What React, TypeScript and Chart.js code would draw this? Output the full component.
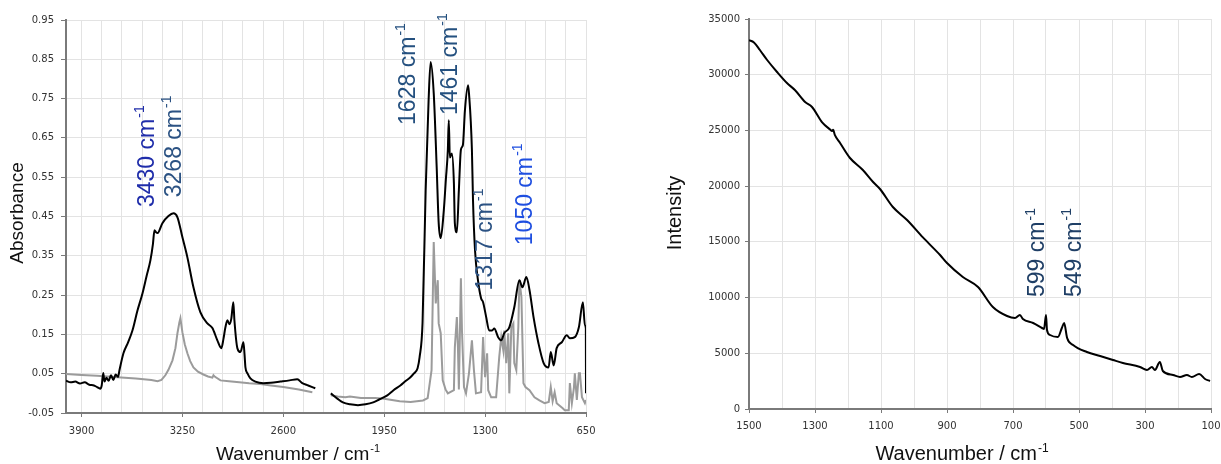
import React, { useEffect, useRef } from "react";
import { Chart, registerables } from "chart.js";

Chart.register(...registerables);

// ---------- IR (left) data ----------
// Sample spectrum (black), high-wavenumber segment
const irSampleHighWn = [4000, 3970, 3940, 3910, 3880, 3850, 3820, 3800, 3780, 3770, 3760, 3752, 3740, 3725, 3710, 3695, 3680, 3665, 3655, 3630, 3600, 3572, 3540, 3507, 3480, 3456, 3440, 3430, 3420, 3410, 3379, 3340, 3308, 3282, 3250, 3218, 3179, 3134, 3089, 3057, 3025, 2999, 2985, 2973, 2960, 2947, 2935, 2922, 2915, 2896, 2876, 2857, 2850, 2844, 2830, 2812, 2780, 2729, 2680, 2619, 2560, 2510, 2478, 2440, 2394];
const irSampleHighAbs = [0.032, 0.028, 0.030, 0.025, 0.028, 0.022, 0.020, 0.016, 0.012, 0.020, 0.052, 0.030, 0.040, 0.032, 0.046, 0.034, 0.048, 0.042, 0.060, 0.102, 0.130, 0.160, 0.210, 0.255, 0.300, 0.339, 0.380, 0.415, 0.410, 0.408, 0.433, 0.451, 0.458, 0.448, 0.397, 0.346, 0.270, 0.206, 0.178, 0.166, 0.135, 0.115, 0.140, 0.168, 0.186, 0.176, 0.190, 0.232, 0.186, 0.115, 0.105, 0.130, 0.100, 0.066, 0.050, 0.038, 0.030, 0.026, 0.027, 0.030, 0.033, 0.036, 0.026, 0.020, 0.013];
// Sample spectrum (black), low-wavenumber segment
const irSampleLowWn = [2294, 2250, 2216, 2170, 2119, 2070, 2021, 1980, 1930, 1890, 1846, 1810, 1781, 1760, 1735, 1722, 1703, 1683, 1664, 1651, 1631, 1612, 1599, 1586, 1566, 1553, 1540, 1534, 1527, 1514, 1501, 1495, 1482, 1469, 1456, 1443, 1430, 1410, 1404, 1385, 1378, 1365, 1346, 1326, 1313, 1293, 1274, 1255, 1241, 1216, 1196, 1177, 1144, 1112, 1079, 1060, 1034, 1014, 988, 956, 923, 891, 877, 858, 839, 806, 774, 754, 722, 696, 670, 657, 651, 650];
const irSampleLowAbs = [0.000, -0.014, -0.023, -0.028, -0.030, -0.028, -0.023, -0.015, -0.005, 0.008, 0.020, 0.032, 0.041, 0.050, 0.064, 0.092, 0.180, 0.517, 0.746, 0.843, 0.764, 0.576, 0.433, 0.395, 0.466, 0.543, 0.620, 0.695, 0.600, 0.610, 0.535, 0.433, 0.410, 0.517, 0.620, 0.632, 0.720, 0.784, 0.764, 0.620, 0.492, 0.364, 0.288, 0.242, 0.232, 0.194, 0.160, 0.160, 0.165, 0.143, 0.135, 0.153, 0.168, 0.219, 0.288, 0.270, 0.296, 0.263, 0.194, 0.127, 0.077, 0.066, 0.105, 0.071, 0.115, 0.130, 0.148, 0.140, 0.143, 0.168, 0.232, 0.173, 0.165, 0.000];
// Reference spectrum (grey)
const irRefHighWn = [4000, 3900, 3800, 3668, 3550, 3450, 3410, 3385, 3360, 3340, 3314, 3295, 3282, 3270, 3263, 3250, 3235, 3218, 3200, 3179, 3150, 3115, 3085, 3057, 3050, 3040, 3005, 2950, 2900, 2820, 2748, 2680, 2600, 2500, 2413];
const irRefHighAbs = [0.049, 0.047, 0.045, 0.041, 0.038, 0.034, 0.031, 0.034, 0.046, 0.060, 0.084, 0.115, 0.153, 0.180, 0.191, 0.155, 0.125, 0.102, 0.082, 0.066, 0.055, 0.048, 0.043, 0.040, 0.046, 0.042, 0.033, 0.031, 0.029, 0.026, 0.024, 0.020, 0.016, 0.010, 0.003];
const irRefLowWn = [2294, 2250, 2200, 2171, 2100, 2008, 1950, 1900, 1850, 1780, 1700, 1670, 1645, 1631, 1618, 1605, 1599, 1586, 1573, 1555, 1540, 1501, 1495, 1482, 1475, 1469, 1456, 1449, 1436, 1423, 1404, 1385, 1372, 1359, 1326, 1313, 1307, 1300, 1287, 1280, 1261, 1229, 1209, 1196, 1183, 1177, 1164, 1151, 1144, 1131, 1118, 1112, 1099, 1086, 1079, 1066, 1053, 1040, 1014, 982, 950, 917, 890, 877, 865, 852, 839, 800, 787, 761, 754, 741, 728, 722, 709, 696, 689, 676, 657, 650];
const irRefLowAbs = [-0.005, -0.008, -0.010, -0.008, -0.012, -0.012, -0.014, -0.017, -0.020, -0.022, -0.018, -0.012, 0.059, 0.385, 0.229, 0.288, 0.178, 0.153, 0.033, 0.010, 0.000, 0.008, 0.117, 0.194, 0.117, 0.010, 0.293, 0.160, 0.016, 0.000, 0.051, 0.135, 0.059, 0.000, 0.003, 0.143, 0.092, 0.041, 0.102, 0.008, -0.010, -0.010, 0.092, 0.143, 0.110, 0.160, 0.077, 0.153, 0.000, 0.168, 0.178, 0.077, 0.059, 0.168, 0.288, 0.245, 0.026, 0.016, 0.008, -0.010, -0.018, -0.025, -0.022, 0.016, -0.020, 0.003, -0.025, -0.038, -0.043, -0.043, 0.026, -0.025, 0.013, 0.051, -0.017, 0.051, 0.051, -0.010, -0.025, -0.017];
const irGapWn = 2340;

const irXGrid = [650, 780, 910, 1040, 1170, 1300, 1430, 1560, 1690, 1820, 1950, 2080, 2210, 2340, 2470, 2600, 2730, 2860, 2990, 3120, 3250, 3380, 3510, 3640, 3770, 3900];
const irXLabels = [650, 1300, 1950, 2600, 3250, 3900];
const irYTicks = [-0.05, 0.05, 0.15, 0.25, 0.35, 0.45, 0.55, 0.65, 0.75, 0.85, 0.95];

const irPeakLabels = ["3430 cm", "3268 cm", "1628 cm", "1461 cm", "1317 cm", "1050 cm"];
const irPeakLabelWn = [3488, 3314, 1807, 1534, 1306, 1051];
const irPeakLabelAbs = [0.474, 0.499, 0.683, 0.708, 0.262, 0.377];
const irPeakLabelColors = ["#1f2daa", "#2b5283", "#24507f", "#24507f", "#2b5283", "#1f4fe0"];

// ---------- Raman (right) data ----------
const ramanWn = [1500, 1485, 1467, 1445, 1415, 1385, 1361, 1330, 1309, 1279, 1255, 1248, 1245, 1240, 1224, 1194, 1155, 1124, 1103, 1064, 1021, 973, 921, 900, 852, 806, 761, 718, 694, 679, 670, 639, 612, 606, 600, 597, 588, 564, 552, 545, 536, 518, 476, 436, 397, 367, 315, 294, 279, 270, 255, 246, 215, 194, 173, 158, 136, 118, 103];
const ramanIntensity = [33100, 32900, 32218, 31320, 30243, 29255, 28627, 27550, 27101, 25755, 25100, 24947, 25050, 24600, 23871, 22525, 21448, 20371, 19743, 18128, 16961, 15400, 13820, 13102, 11846, 10948, 9153, 8346, 8166, 8436, 8077, 7718, 7269, 7179, 8436, 7090, 6641, 6461, 7269, 7718, 6372, 5743, 5115, 4756, 4397, 4128, 3769, 3500, 3769, 3500, 4218, 3410, 3051, 2872, 3051, 2872, 3141, 2692, 2513];
const ramanXGrid = [100, 200, 300, 400, 500, 600, 700, 800, 900, 1000, 1100, 1200, 1300, 1400, 1500];
const ramanXLabels = [1500, 1300, 1100, 900, 700, 500, 300, 100];
const ramanYTicks = [0, 5000, 10000, 15000, 20000, 25000, 30000, 35000];

const ramanPeakLabels = ["599 cm", "549 cm"];
const ramanPeakLabelWn = [630, 520];
const ramanPeakLabelInt = [10051, 10051];
const ramanPeakLabelColors = ["#1f3f66", "#1f3f66"];

// ---------- styling ----------
const TEXT_FONT = "'Liberation Sans', Arial, sans-serif";
const TICK_FONT = "'DejaVu Sans', Verdana, sans-serif";
const GRID = "#e3e3e3";
const AXIS = "#7a7a7a";

const toPoints = (xs: number[], ys: number[]) => xs.map((x, i) => ({ x, y: ys[i] }));

function drawSup(ctx: CanvasRenderingContext2D, main: string, sup: string, size: number) {
  ctx.font = `${size}px ${TEXT_FONT}`;
  ctx.fillText(main, 0, 0);
  const w = ctx.measureText(main).width;
  ctx.font = `${Math.round(size * 0.6)}px ${TEXT_FONT}`;
  ctx.fillText(sup, w + size * 0.05, -size * 0.42);
}
function supWidth(ctx: CanvasRenderingContext2D, main: string, sup: string, size: number) {
  ctx.font = `${size}px ${TEXT_FONT}`;
  const w = ctx.measureText(main).width;
  ctx.font = `${Math.round(size * 0.6)}px ${TEXT_FONT}`;
  return w + size * 0.05 + ctx.measureText(sup).width;
}

type OverlayCfg = {
  labels: string[];
  wn: number[];
  vals: number[];
  colors: string[];
  labelSize: number;
  yTitle: string;
  yTitleX: number;
  yTitleY: number;
  xTitleCx: number;
  xTitleBase: number;
  titleSize: number;
};

const makeOverlay = (cfg: OverlayCfg) => ({
  id: "overlay",
  afterDraw(chart: any) {
    const { ctx, scales } = chart;
    ctx.save();
    ctx.textAlign = "left";
    ctx.textBaseline = "alphabetic";
    cfg.labels.forEach((t, i) => {
      const px = scales.x.getPixelForValue(cfg.wn[i]);
      const py = scales.y.getPixelForValue(cfg.vals[i]);
      ctx.save();
      ctx.translate(px + cfg.labelSize * 0.358, py);
      ctx.rotate(-Math.PI / 2);
      ctx.fillStyle = cfg.colors[i];
      drawSup(ctx, t, "-1", cfg.labelSize);
      ctx.restore();
    });
    // y title
    ctx.save();
    ctx.fillStyle = "#111";
    ctx.font = `${cfg.titleSize}px ${TEXT_FONT}`;
    ctx.translate(cfg.yTitleX, cfg.yTitleY);
    ctx.rotate(-Math.PI / 2);
    ctx.textAlign = "center";
    ctx.textBaseline = "middle";
    ctx.fillText(cfg.yTitle, 0, 0);
    ctx.restore();
    // x title
    ctx.save();
    ctx.fillStyle = "#111";
    const tw = supWidth(ctx, "Wavenumber / cm", "-1", cfg.titleSize);
    ctx.translate(cfg.xTitleCx - tw / 2, cfg.xTitleBase);
    drawSup(ctx, "Wavenumber / cm", "-1", cfg.titleSize);
    ctx.restore();
    ctx.restore();
  },
});

function axisX(opts: any) {
  const { min, max, grid, labels, tickLength, padding, height } = opts;
  return {
    type: "linear",
    reverse: true,
    min,
    max,
    afterBuildTicks: (s: any) => {
      s.ticks = grid.map((v: number) => ({ value: v }));
    },
    afterFit: (s: any) => {
      s.height = height;
    },
    ticks: {
      autoSkip: false,
      maxRotation: 0,
      padding,
      color: "#333",
      font: { family: TICK_FONT, size: 10 },
      callback: (v: number) => (labels.includes(v) ? String(v) : ""),
    },
    grid: {
      color: GRID,
      lineWidth: 1,
      tickLength,
      tickColor: (c: any) => (c.tick && labels.includes(c.tick.value) ? AXIS : "rgba(0,0,0,0)"),
    },
    border: { color: AXIS, width: 2 },
  };
}

function axisY(opts: any) {
  const { ticks, width, tickLength, padding, fmt } = opts;
  return {
    type: "linear",
    min: ticks[0],
    max: ticks[ticks.length - 1],
    afterBuildTicks: (s: any) => {
      s.ticks = ticks.map((v: number) => ({ value: v }));
    },
    afterFit: (s: any) => {
      s.width = width;
    },
    ticks: {
      autoSkip: false,
      padding,
      color: "#333",
      font: { family: TICK_FONT, size: 10 },
      callback: fmt,
    },
    grid: { color: GRID, lineWidth: 1, tickLength, tickColor: AXIS },
    border: { color: AXIS, width: 2 },
  };
}

export default function App() {
  const leftRef = useRef<HTMLCanvasElement>(null);
  const rightRef = useRef<HTMLCanvasElement>(null);

  useEffect(() => {
    const blackData = [
      ...toPoints(irSampleHighWn, irSampleHighAbs),
      { x: irGapWn, y: null as any },
      ...toPoints(irSampleLowWn, irSampleLowAbs),
    ];
    const greyData = [
      ...toPoints(irRefHighWn, irRefHighAbs),
      { x: irGapWn, y: null as any },
      ...toPoints(irRefLowWn, irRefLowAbs),
    ];

    const left = new Chart(leftRef.current!, {
      type: "line",
      data: {
        datasets: [
          { data: blackData, borderColor: "#000", borderWidth: 2, pointRadius: 0, cubicInterpolationMode: "monotone", spanGaps: false },
          { data: greyData, borderColor: "#9b9b9b", borderWidth: 2, pointRadius: 0, tension: 0, spanGaps: false },
        ],
      },
      options: {
        responsive: false,
        animation: false,
        layout: { padding: { top: 20, right: 24, left: 0, bottom: 0 } },
        plugins: { legend: { display: false }, tooltip: { enabled: false } },
        scales: {
          x: axisX({ min: 650, max: 4000, grid: irXGrid, labels: irXLabels, tickLength: 4, padding: 8, height: 51 }),
          y: axisY({ ticks: irYTicks, width: 66, tickLength: 5, padding: 7, fmt: (v: number) => v.toFixed(2) }),
        },
      } as any,
      plugins: [
        makeOverlay({
          labels: irPeakLabels,
          wn: irPeakLabelWn,
          vals: irPeakLabelAbs,
          colors: irPeakLabelColors,
          labelSize: 23,
          yTitle: "Absorbance",
          yTitleX: 18,
          yTitleY: 213,
          xTitleCx: 298,
          xTitleBase: 460,
          titleSize: 19,
        }) as any,
      ],
    });

    const right = new Chart(rightRef.current!, {
      type: "line",
      data: {
        datasets: [
          { data: toPoints(ramanWn, ramanIntensity), borderColor: "#000", borderWidth: 2, pointRadius: 0, cubicInterpolationMode: "monotone" },
        ],
      },
      options: {
        responsive: false,
        animation: false,
        layout: { padding: { top: 19, right: 10, left: 0, bottom: 0 } },
        plugins: { legend: { display: false }, tooltip: { enabled: false } },
        scales: {
          x: axisX({ min: 100, max: 1500, grid: ramanXGrid, labels: ramanXLabels, tickLength: 4, padding: 7, height: 55 }),
          y: axisY({ ticks: ramanYTicks, width: 139, tickLength: 4, padding: 5, fmt: (v: number) => String(v) }),
        },
      } as any,
      plugins: [
        makeOverlay({
          labels: ramanPeakLabels,
          wn: ramanPeakLabelWn,
          vals: ramanPeakLabelInt,
          colors: ramanPeakLabelColors,
          labelSize: 23,
          yTitle: "Intensity",
          yTitleX: 65,
          yTitleY: 213,
          xTitleCx: 352,
          xTitleBase: 460,
          titleSize: 20,
        }) as any,
      ],
    });

    return () => {
      left.destroy();
      right.destroy();
    };
  }, []);

  return (
    <div style={{ position: "absolute", left: 0, top: 0, width: 1221, height: 464, background: "#fff" }}>
      <canvas ref={leftRef} width={610} height={464} style={{ position: "absolute", left: 0, top: 0, width: 610, height: 464 }} />
      <canvas ref={rightRef} width={611} height={464} style={{ position: "absolute", left: 610, top: 0, width: 611, height: 464 }} />
    </div>
  );
}
